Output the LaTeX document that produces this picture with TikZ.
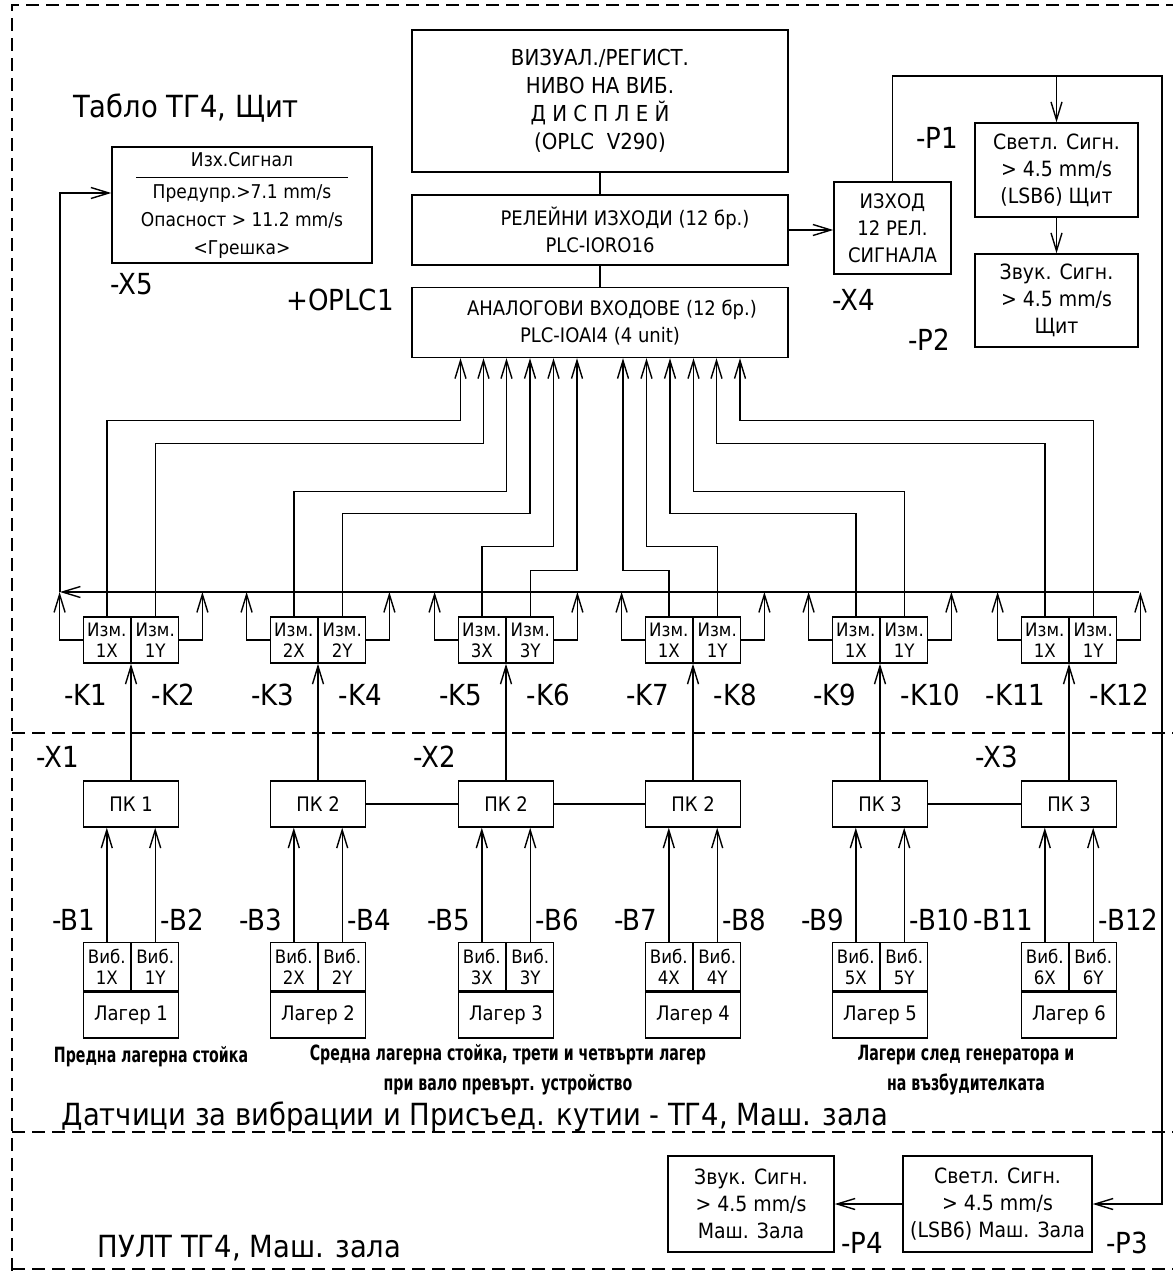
\documentclass[tikz,border=0pt]{standalone}
\usepackage{fontspec}
\setmainfont{DejaVu Sans Condensed}
\newfontfamily\capfont{DejaVu Sans Condensed}[FakeStretch=0.75]
\usetikzlibrary{arrows.meta,calc}

\begin{document}
\begin{tikzpicture}[x=1pt,y=-1pt,line width=1.4pt,
    arr/.style={-{Straight Barb[length=18pt,width=11pt]}},
    blk/.style={draw,inner sep=0pt,align=center,font=\fontsize{20}{27}\selectfont},
    half/.style={blk,minimum width=47pt,minimum height=46pt,font=\fontsize{18.5}{21}\selectfont},
    pkbox/.style={blk,minimum width=95pt,minimum height=46pt},
    lbl/.style={inner sep=0pt,font=\fontsize{29}{29}\selectfont},
    zone/.style={dash pattern=on 13pt off 7pt,line width=1.2pt},
    captxt/.style={inner sep=0pt,align=center,font=\capfont\bfseries\fontsize{21}{30}\selectfont}]
  \useasboundingbox (0,0) rectangle (1173,1271);

  % zones
  \draw[zone] (12,1271) -- (12,5) -- (1173,5);
  \draw[zone] (12,733) -- (1173,733);
  \draw[zone] (12,1132) -- (1173,1132);
  \draw[zone] (12,1269) -- (1173,1269);

  % panel
  \node[lbl,font=\fontsize{30.5}{30}\selectfont] (tablo) at (186,108) {Табло ТГ4, Щит};
  \node[blk,minimum width=376pt,minimum height=142pt,font=\fontsize{22}{28}\selectfont] (disp) at (600,101)
    {ВИЗУАЛ./РЕГИСТ.\\НИВО НА ВИБ.\\Д И С П Л Е Й\\(OPLC\ \ V290)};
  \node[blk,minimum width=376pt,minimum height=70pt] (relay) at (600,230)
    {\hspace*{50pt}РЕЛЕЙНИ ИЗХОДИ (12 бр.)\\PLC-IORO16};
  \node[blk,minimum width=376pt,minimum height=70pt] (analog) at (600,322.5)
    {\hspace*{24pt}АНАЛОГОВИ ВХОДОВЕ (12 бр.)\\PLC-IOAI4 (4 unit)};
  \node[blk,minimum width=260pt,minimum height=116pt,font=\fontsize{19}{28}\selectfont] (sig) at (242,205)
    {Изх.Сигнал\\[-16pt]\rule{212pt}{1pt}\\[-8pt]Предупр.>7.1 mm/s\\Опасност > 11.2 mm/s\\<Грешка>};
  \node[blk,minimum width=117pt,minimum height=92pt] (out) at (892.5,228) {ИЗХОД\\12 РЕЛ.\\СИГНАЛА};
  \node[blk,minimum width=163pt,minimum height=94pt,font=\fontsize{21}{27}\selectfont] (p1) at (1056.5,170) {Светл. Сигн.\\> 4.5 mm/s\\(LSB6) Щит};
  \node[blk,minimum width=163pt,minimum height=93pt,font=\fontsize{21}{27}\selectfont] (p2) at (1056.5,300.5) {Звук. Сигн.\\> 4.5 mm/s\\Щит};
  \node[lbl] (x5) at (132,284) {-X5};
  \node[lbl] (oplc) at (340,300) {+OPLC1};
  \node[lbl] (x4) at (854,300) {-X4};
  \node[lbl] (p1l) at (937,138) {-P1};
  \node[lbl] (p2l) at (929,340) {-P2};

  % desk
  \node[blk,minimum width=166pt,minimum height=96pt,font=\fontsize{21}{27}\selectfont] (p4) at (751,1204) {Звук. Сигн.\\> 4.5 mm/s\\Маш. Зала};
  \node[blk,minimum width=189pt,minimum height=96pt,font=\fontsize{21}{27}\selectfont] (p3) at (997.5,1204) {Светл. Сигн.\\> 4.5 mm/s\\(LSB6) Маш. Зала};
  \node[lbl] (p4l) at (862,1243) {-P4};
  \node[lbl] (p3l) at (1127,1243) {-P3};
  \node[lbl,anchor=west,font=\fontsize{30.5}{30}\selectfont] (pult) at (97,1248) {ПУЛТ ТГ4, Маш. зала};
  \draw[arr] (p3) -- (p4);

  \draw (disp) -- (relay);
  \draw (relay) -- (analog);
  \draw[arr] (relay.east) -- (relay.east -| out.west);
  \coordinate (rtop) at (1162,76);
  \draw[arr] (out.north) |- (rtop) |- (p3.east);
  \draw[arr] (p1.north |- rtop) -- (p1.north);
  \draw[arr] (p1) -- (p2);

  % measuring channels
  \foreach \i/\s/\nn/\ka/\kb in {1/131/1/1/2,2/318/2/3/4,3/506/3/5/6,4/693/1/7/8,5/880/1/9/10,6/1069/1/11/12}{
    \node[half,anchor=east] (kl\i) at (\s,640) {Изм.\\\nn X};
    \node[half,anchor=west] (kr\i) at (\s,640) {Изм.\\\nn Y};
    \node[lbl,anchor=east] (kla\ka) at ({\s-23},695) {-K\ka};
    \node[lbl,anchor=west] (kla\kb) at ({\s+20},695) {-K\kb};
  }
  \coordinate (busL) at (60,592);
  \coordinate (busR) at (1139,592);
  \draw[arr] (busR) -- (busL);
  \draw[arr] (busL) |- ([yshift=12pt]sig.west);
  \foreach \i in {1,...,6}{
    \draw[arr] (kl\i.west) -- ++(-23,0) coordinate (sl) -- (sl |- busL);
    \draw[arr] (kr\i.east) -- ++(23,0) coordinate (sr) -- (sr |- busL);
  }
  \foreach \j/\dx in {1/-139.5,2/-116.5,3/-93.5,4/-70,5/-46.5,6/-23,7/23,8/46.5,9/70,10/93.5,11/116.5,12/140}
    \coordinate (ai\j) at ([xshift=\dx pt]analog.south);
  \foreach \src/\dst/\lv in {kl1/ai1/62,kr1/ai2/85,kl2/ai3/133,kr2/ai4/155,kl3/ai5/188,kr3/ai6/212,
      kl4/ai7/212,kr4/ai8/188,kl5/ai9/155,kr5/ai10/133,kl6/ai11/85,kr6/ai12/62}
    \draw[arr] (\src.north) |- ($(\dst)+(0,\lv)$) -- (\dst);

  % sensors and junction boxes
  \node[lbl] (x1) at (58,757) {-X1};
  \node[lbl] (x2) at (435,757) {-X2};
  \node[lbl] (x3) at (997,757) {-X3};
  \foreach \i/\s/\pk/\ba/\bb in {1/131/1/1/2,2/318/2/3/4,3/506/2/5/6,4/693/2/7/8,5/880/3/9/10,6/1069/3/11/12}{
    \node[pkbox] (pk\i) at (\s,804) {ПК \pk};
    \node[pkbox] (lag\i) at (\s,1015) {Лагер \i};
    \node[half,minimum height=48pt,anchor=south east] (vl\i) at (lag\i.north) {Виб.\\\i X};
    \node[half,minimum height=48pt,anchor=south west] (vr\i) at (lag\i.north) {Виб.\\\i Y};
    \draw[arr] (pk\i) -- (kl\i.south east);
    \draw[arr] (vl\i.north) -- (vl\i.north |- pk\i.south);
    \draw[arr] (vr\i.north) -- (vr\i.north |- pk\i.south);
    \node[lbl,anchor=east] (bl\ba) at ({\s-35},920) {-B\ba};
    \node[lbl,anchor=west] (bl\bb) at ({\s+29},920) {-B\bb};
  }
  \draw (pk2) -- (pk3);
  \draw (pk3) -- (pk4);
  \draw (pk5) -- (pk6);
  \node[captxt] (cap1) at (151,1057) {Предна лагерна стойка};
  \node[captxt] (cap2) at (508,1070) {Средна лагерна стойка, трети и четвърти лагер\\при вало превърт. устройство};
  \node[captxt] (cap3) at (966,1070) {Лагери след генератора и\\на възбудителката};
  \node[lbl,anchor=west,font=\fontsize{30.5}{30}\selectfont] (dat) at (61,1117) {Датчици за вибрации и Присъед. кутии - ТГ4, Маш. зала};
\end{tikzpicture}
\end{document}
